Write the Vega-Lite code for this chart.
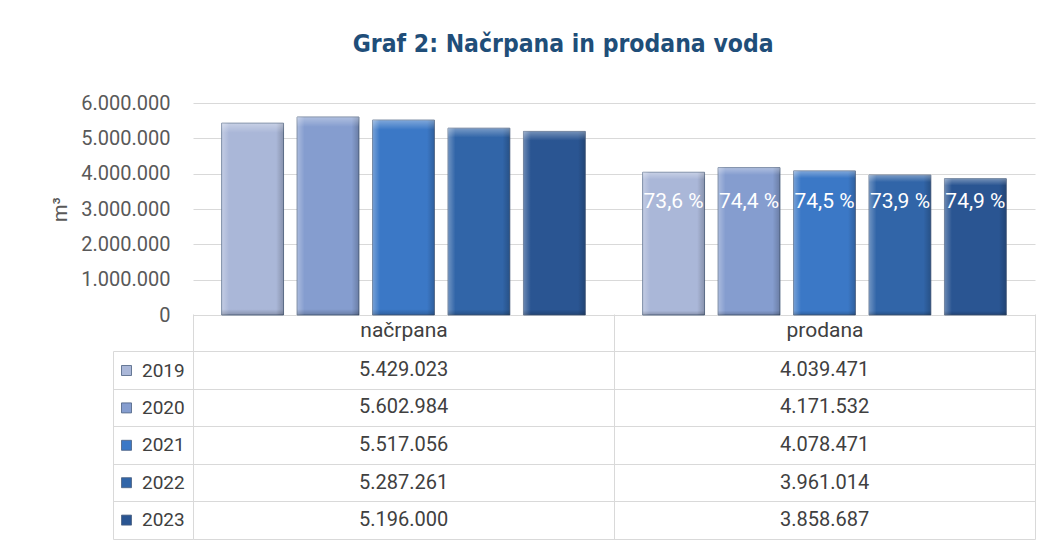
{
  "$schema": "https://vega.github.io/schema/vega-lite/v6.json",
  "padding": {"left": 50, "top": 31, "right": 10, "bottom": 0},
  "background": "white",
  "title": {"text": "Graf 2: Načrpana in prodana voda", "font": "DejaVu Sans Condensed, Roboto", "fontSize": 24.5, "fontWeight": "bold", "color": "#1f4e79", "anchor": "middle", "offset": 36, "dx": 20},
  "config": {
    "locale": {"number": {"decimal": ",", "thousands": ".", "grouping": [3], "currency": ["", " €"]}},
    "view": {"stroke": null},
    "font": "Roboto"
  },
  "datasets": {
    "voda": [
      {"vrsta": "načrpana", "leto": "2019", "m3": 5429023},
      {"vrsta": "načrpana", "leto": "2020", "m3": 5602984},
      {"vrsta": "načrpana", "leto": "2021", "m3": 5517056},
      {"vrsta": "načrpana", "leto": "2022", "m3": 5287261},
      {"vrsta": "načrpana", "leto": "2023", "m3": 5196000},
      {"vrsta": "prodana", "leto": "2019", "m3": 4039471, "delez": "73,6 %"},
      {"vrsta": "prodana", "leto": "2020", "m3": 4171532, "delez": "74,4 %"},
      {"vrsta": "prodana", "leto": "2021", "m3": 4078471, "delez": "74,5 %"},
      {"vrsta": "prodana", "leto": "2022", "m3": 3961014, "delez": "73,9 %"},
      {"vrsta": "prodana", "leto": "2023", "m3": 3858687, "delez": "74,9 %"}
    ]
  },
  "spacing": 36,
  "bounds": "flush",
  "resolve": {"legend": {"color": "independent"}},
  "vconcat": [
    {
      "width": 842,
      "height": 212,
      "data": {"name": "voda"},
      "encoding": {
        "x": {"field": "vrsta", "type": "nominal", "sort": ["načrpana", "prodana"], "scale": {"paddingInner": 0, "paddingOuter": 0}, "axis": null},
        "xOffset": {"field": "leto", "type": "nominal", "scale": {"paddingInner": 0.18, "paddingOuter": 0.38}},
        "y": {
          "field": "m3", "type": "quantitative",
          "scale": {"domain": [0, 6000000], "nice": false},
          "axis": {"values": [0, 1000000, 2000000, 3000000, 4000000, 5000000, 6000000], "format": ",d", "domain": false, "ticks": false, "grid": true, "gridColor": "#d9d9d9", "labelFontSize": 20, "labelColor": "#595959", "labelPadding": 23, "title": "m³", "titleFontSize": 20, "titleFontWeight": "normal", "titleColor": "#595959", "titlePadding": 10}
        }
      },
      "layer": [
        {
          "mark": {"type": "bar", "stroke": "#4a5f80", "strokeWidth": 0.8},
          "encoding": {"color": {"field": "leto", "type": "nominal", "scale": {"range": ["#aab7d8", "#859dcf", "#3b78c6", "#3165a8", "#2a5592"]}, "legend": null}}
        },
        {
          "mark": {"type": "bar", "fill": {"gradient": "linear", "x1": 0, "x2": 1, "y1": 0, "y2": 0, "stops": [
            {"offset": 0, "color": "rgba(255,255,255,0.3)"},
            {"offset": 0.12, "color": "rgba(255,255,255,0)"},
            {"offset": 0.88, "color": "rgba(0,0,0,0)"},
            {"offset": 1, "color": "rgba(0,0,0,0.2)"}
          ]}}
        },
        {
          "mark": {"type": "bar", "fill": {"gradient": "linear", "x1": 0, "x2": 0, "y1": 0, "y2": 1, "stops": [
            {"offset": 0, "color": "rgba(255,255,255,0.35)"},
            {"offset": 0.05, "color": "rgba(255,255,255,0)"},
            {"offset": 0.97, "color": "rgba(0,0,0,0)"},
            {"offset": 1, "color": "rgba(0,0,0,0.2)"}
          ]}}
        },
        {
          "transform": [{"filter": "datum.delez != null"}],
          "mark": {"type": "text", "color": "white", "fontSize": 21, "baseline": "middle"},
          "encoding": {"y": {"datum": 3200000}, "text": {"field": "delez"}}
        }
      ]
    },
    {
      "width": 842,
      "height": 188,
      "data": {"name": "voda"},
      "encoding": {
        "x": {"field": "vrsta", "type": "nominal", "sort": ["načrpana", "prodana"], "scale": {"paddingInner": 0, "paddingOuter": 0},
          "axis": {"orient": "top", "title": null, "tickBand": "extent", "tickSize": 37, "tickColor": "#d9d9d9", "domainColor": "#d9d9d9", "grid": true, "gridColor": "#d9d9d9", "labelPadding": -26, "labelFontSize": 21, "labelColor": "#404040", "labelAngle": 0}},
        "y": {"field": "leto", "type": "nominal", "scale": {"paddingInner": 0, "paddingOuter": 0},
          "axis": {"title": null, "labels": false, "offset": 80, "tickBand": "extent", "tickSize": -80, "tickColor": "#d9d9d9", "domainColor": "#d9d9d9", "grid": true, "gridColor": "#d9d9d9"}}
      },
      "layer": [
        {
          "mark": {"type": "text", "fontSize": 20, "color": "#404040"},
          "encoding": {"text": {"field": "m3", "type": "quantitative", "format": ",d"}}
        },
        {
          "mark": {"type": "square", "opacity": 0},
          "encoding": {"color": {"field": "leto", "type": "nominal",
            "legend": {"orient": "none", "legendX": -76, "legendY": 10, "title": null, "symbolType": "square", "symbolSize": 100, "symbolOpacity": 1, "symbolStrokeColor": "#4a5f80", "symbolStrokeWidth": 0.8, "labelFontSize": 19, "labelColor": "#404040", "rowPadding": 17.4, "labelOffset": 6}}}
        }
      ]
    }
  ]
}
